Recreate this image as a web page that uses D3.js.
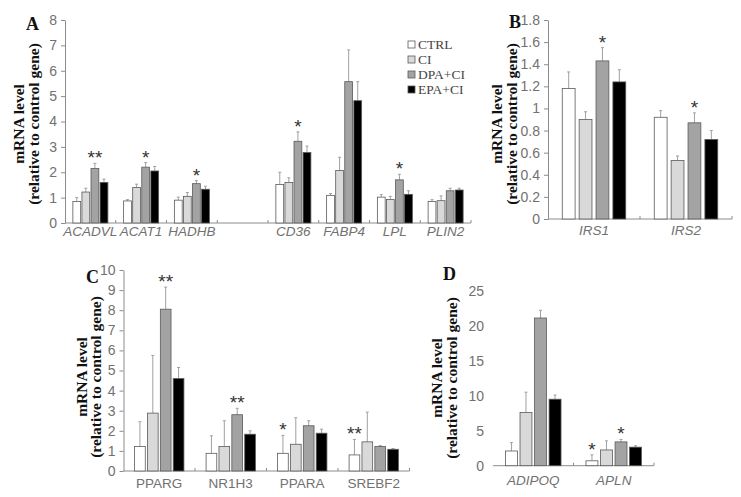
<!DOCTYPE html>
<html>
<head>
<meta charset="utf-8">
<script src="https://cdn.jsdelivr.net/npm/d3@7"></script>
<style>
  html, body { margin: 0; padding: 0; background: #fff; }
  svg { display: block; }
</style>
</head>
<body>
<svg id="chart" width="741" height="497"></svg>
<script>
// ---------- DATA ----------
const series = ["CTRL", "CI", "DPA+CI", "EPA+CI"];
const seriesColors = ["#ffffff", "#d9d9d9", "#a3a3a3", "#000000"];

// Panel A
const aGenes = ["ACADVL", "ACAT1", "HADHB", "", "CD36", "FABP4", "LPL", "PLIN2"];
const aCtrl = [0.85, 0.87, 0.90, null, 1.52, 1.09, 1.02, 0.85];
const aCi   = [1.22, 1.40, 1.05, null, 1.60, 2.07, 0.93, 0.88];
const aDpa  = [2.15, 2.20, 1.55, null, 3.22, 5.57, 1.70, 1.27];
const aEpa  = [1.60, 2.05, 1.33, null, 2.78, 4.82, 1.13, 1.30];
const aCtrlSd = [0.15, 0.05, 0.12, null, 0.48, 0.07, 0.10, 0.07];
const aCiSd   = [0.15, 0.13, 0.15, null, 0.18, 0.52, 0.12, 0.19];
const aDpaSd  = [0.20, 0.18, 0.12, null, 0.37, 1.25, 0.22, 0.10];
const aEpaSd  = [0.13, 0.18, 0.12, null, 0.25, 0.75, 0.14, 0.07];
const aSig = [["ACADVL", "DPA+CI", "**"], ["ACAT1", "DPA+CI", "*"], ["HADHB", "DPA+CI", "*"], ["CD36", "DPA+CI", "*"], ["LPL", "DPA+CI", "*"]];
const aTicks = [0, 1, 2, 3, 4, 5, 6, 7, 8];

// Panel B
const bGenes = ["IRS1", "IRS2"];
const bCtrl = [1.18, 0.92];
const bCi   = [0.90, 0.53];
const bDpa  = [1.43, 0.87];
const bEpa  = [1.24, 0.72];
const bCtrlSd = [0.15, 0.06];
const bCiSd   = [0.07, 0.04];
const bDpaSd  = [0.12, 0.09];
const bEpaSd  = [0.11, 0.08];
const bSig = [["IRS1", "DPA+CI", "*"], ["IRS2", "DPA+CI", "*"]];
const bTicks = [0, 0.2, 0.4, 0.6, 0.8, 1, 1.2, 1.4, 1.6, 1.8];

// Panel C
const cGenes = ["PPARG", "NR1H3", "PPARA", "SREBF2"];
const cCtrl = [1.22, 0.88, 0.88, 0.80];
const cCi   = [2.88, 1.22, 1.33, 1.45];
const cDpa  = [8.05, 2.80, 2.25, 1.22];
const cEpa  = [4.60, 1.83, 1.88, 1.08];
const cCtrlSd = [1.23, 0.87, 0.89, 0.77];
const cCiSd   = [2.87, 1.28, 1.32, 1.48];
const cDpaSd  = [1.10, 0.32, 0.25, 0.05];
const cEpaSd  = [0.55, 0.17, 0.20, 0.04];
const cSig = [["PPARG", "DPA+CI", "**"], ["NR1H3", "DPA+CI", "**"], ["PPARA", "CTRL", "*"], ["SREBF2", "CTRL", "**"]];
const cTicks = [0, 1, 2, 3, 4, 5, 6, 7, 8, 9, 10];

// Panel D
const dGenes = ["ADIPOQ", "APLN"];
const dCtrl = [2.10, 0.70];
const dCi   = [7.60, 2.25];
const dDpa  = [21.1, 3.40];
const dEpa  = [9.50, 2.65];
const dCtrlSd = [1.20, 0.85];
const dCiSd   = [2.90, 1.30];
const dDpaSd  = [1.10, 0.35];
const dEpaSd  = [0.60, 0.20];
const dSig = [["APLN", "CTRL", "*"], ["APLN", "DPA+CI", "*"]];
const dTicks = [0, 5, 10, 15, 20, 25];

// ---------- LAYOUT ----------
const svg = d3.select("#chart");
const sans = "'Liberation Sans', Arial, sans-serif";
const serif = "'Liberation Serif', 'Times New Roman', serif";
const axisColor = "#8c8c8c";
const textColor = "#717171";

const panels = [
  { letter: "A", genes: aGenes, means: [aCtrl, aCi, aDpa, aEpa], sds: [aCtrlSd, aCiSd, aDpaSd, aEpaSd], sig: aSig, ticks: aTicks,
    max: 8, fmt: d3.format("d"), left: 65, right: 471, bottom: 223, top: 20, pad: 0.14, italic: true, labelDy: 12.5, yLine: true,
    letterPos: [26, 30], title: { l1x: 24, l2x: 39, cy: 124 } },
  { letter: "B", genes: bGenes, means: [bCtrl, bCi, bDpa, bEpa], sds: [bCtrlSd, bCiSd, bDpaSd, bEpaSd], sig: bSig, ticks: bTicks,
    max: 1.8, fmt: d3.format(".1~f"), left: 548, right: 732, bottom: 219, top: 20, pad: 0.24, italic: true, labelDy: 16, yLine: true,
    letterPos: [509, 28], title: { l1x: 502, l2x: 517, cy: 124 } },
  { letter: "C", genes: cGenes, means: [cCtrl, cCi, cDpa, cEpa], sds: [cCtrlSd, cCiSd, cDpaSd, cEpaSd], sig: cSig, ticks: cTicks,
    max: 10, fmt: d3.format("d"), left: 123.5, right: 409.5, bottom: 471, top: 270, pad: 0.17, italic: false, labelDy: 17, yLine: true,
    letterPos: [86, 283], title: { l1x: 87, l2x: 101, cy: 377 } },
  { letter: "D", genes: dGenes, means: [dCtrl, dCi, dDpa, dEpa], sds: [dCtrlSd, dCiSd, dDpaSd, dEpaSd], sig: dSig, ticks: dTicks,
    max: 25, fmt: d3.format("d"), left: 493, right: 654, bottom: 465.7, top: 290.7, pad: 0.18, italic: true, labelDy: 19, yLine: false,
    letterPos: [443, 280], title: { l1x: 442, l2x: 457, cy: 378 } }
];

panels.forEach(p => {
  const g = svg.append("g");
  const x0 = d3.scaleBand().domain(p.genes.map((d, i) => i)).range([p.left, p.right]);
  const cw = x0.bandwidth();
  const x1 = d3.scaleBand().domain(series).range([cw * 0.155, cw * 0.845]).paddingInner(p.pad);
  const y = d3.scaleLinear().domain([0, p.max]).range([p.bottom, p.top]);

  // y axis
  const ya = g.append("g").attr("transform", `translate(${p.left},0)`)
    .call(d3.axisLeft(y).tickValues(p.ticks).tickSize(p.yLine ? 4 : 0).tickSizeOuter(0).tickPadding(p.yLine ? 4 : 9).tickFormat(p.fmt));
  ya.select(".domain").attr("stroke", p.yLine ? axisColor : "none");
  ya.selectAll(".tick line").attr("stroke", p.yLine ? axisColor : "none");
  ya.selectAll(".tick text").attr("fill", textColor).style("font-family", sans).style("font-size", "14px");

  // x axis line + inner ticks at category boundaries
  g.append("line").attr("x1", p.left).attr("x2", p.right).attr("y1", p.bottom).attr("y2", p.bottom)
    .attr("stroke", axisColor);
  g.selectAll(".xt").data(p.genes.map((d, i) => i)).join("line")
    .attr("x1", i => x0(i) + cw).attr("x2", i => x0(i) + cw)
    .attr("y1", p.bottom).attr("y2", p.bottom - 3).attr("stroke", axisColor);

  // category labels
  g.selectAll(".xl").data(p.genes.map((d, i) => i)).join("text")
    .attr("x", i => x0(i) + cw / 2).attr("y", p.bottom + p.labelDy)
    .attr("text-anchor", "middle").attr("fill", textColor)
    .style("font-family", sans).style("font-size", "13.5px").style("font-style", p.italic ? "italic" : "normal")
    .text(i => p.genes[i]);

  // bars + error bars
  const rows = [];
  p.genes.forEach((gn, i) => {
    series.forEach((s, k) => {
      const v = p.means[k][i];
      if (v == null) return;
      rows.push({ i, s, k, v, sd: p.sds[k][i] });
    });
  });
  const grp = g.selectAll(".bar").data(rows).join("g");
  grp.append("line")
    .attr("x1", d => x0(d.i) + x1(d.s) + x1.bandwidth() / 2)
    .attr("x2", d => x0(d.i) + x1(d.s) + x1.bandwidth() / 2)
    .attr("y1", d => y(d.v)).attr("y2", d => y(d.v + d.sd))
    .attr("stroke", "#a0a0a0").attr("stroke-width", 1);
  grp.append("line")
    .attr("x1", d => x0(d.i) + x1(d.s) + x1.bandwidth() / 2 - 1.5)
    .attr("x2", d => x0(d.i) + x1(d.s) + x1.bandwidth() / 2 + 1.5)
    .attr("y1", d => y(d.v + d.sd)).attr("y2", d => y(d.v + d.sd))
    .attr("stroke", "#a0a0a0").attr("stroke-width", 1);
  grp.append("rect")
    .attr("x", d => x0(d.i) + x1(d.s)).attr("width", x1.bandwidth())
    .attr("y", d => y(d.v)).attr("height", d => y(0) - y(d.v))
    .attr("fill", d => seriesColors[d.k]).attr("stroke", "#5a5a5a").attr("stroke-width", 0.8);

  // significance marks
  p.sig.forEach(([gn, s, mark]) => {
    const i = p.genes.indexOf(gn);
    const k = series.indexOf(s);
    const top = p.means[k][i] + p.sds[k][i];
    g.append("text")
      .attr("x", x0(i) + x1(s) + x1.bandwidth() / 2)
      .attr("y", y(top) + 1)
      .attr("text-anchor", "middle").attr("fill", "#333")
      .style("font-family", sans).style("font-size", "19px")
      .text(mark);
  });

  // y title
  [["mRNA level", p.title.l1x], ["(relative to control gene)", p.title.l2x]].forEach(([t, xx]) => {
    g.append("text")
      .attr("transform", `translate(${xx},${p.title.cy}) rotate(-90)`)
      .attr("text-anchor", "middle").attr("fill", "#111")
      .style("font-family", serif).style("font-weight", "bold").style("font-size", "15.5px")
      .text(t);
  });

  // panel letter
  g.append("text").attr("x", p.letterPos[0]).attr("y", p.letterPos[1])
    .attr("fill", "#111").style("font-family", serif).style("font-weight", "bold").style("font-size", "18px")
    .text(p.letter);
});

// legend (panel A)
const lg = svg.append("g").attr("transform", "translate(408,44.5)");
series.forEach((s, k) => {
  const row = lg.append("g").attr("transform", `translate(0,${k * 15})`);
  row.append("rect").attr("x", 0).attr("y", -3.5).attr("width", 7).attr("height", 7)
    .attr("fill", seriesColors[k]).attr("stroke", "#5a5a5a").attr("stroke-width", 0.8);
  row.append("text").attr("x", 10).attr("y", 4.5).attr("fill", "#444")
    .style("font-family", serif).style("font-size", "13.5px").text(s);
});
</script>
</body>
</html>
